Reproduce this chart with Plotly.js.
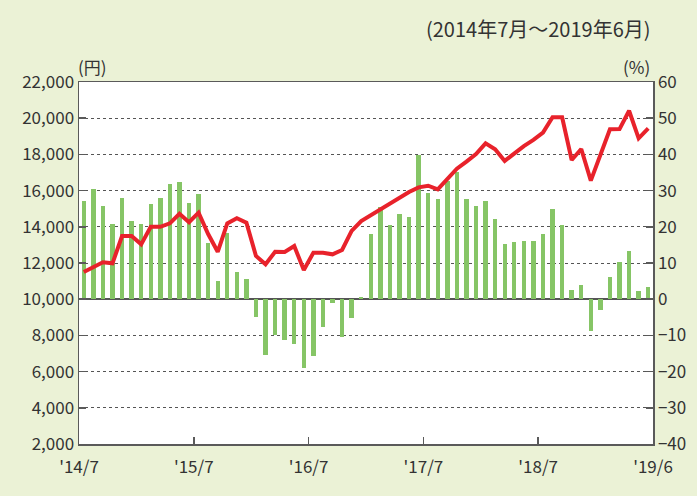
<!DOCTYPE html>
<html>
<head>
<meta charset="utf-8">
<script src="https://cdn.plot.ly/plotly-3.0.1.min.js"></script>
<style>html,body{margin:0;padding:0;background:#EBF2D6;}#chart{width:697px;height:496px;}</style>
</head>
<body>
<div id="chart"></div>
<script>
// Months 2014/7 .. 2019/6 (index 0..59)
const months = Array.from({length: 60}, (_, i) => i);

// Year-over-year change (%) - green bars, right axis
const changePct = [
  27.1, 30.4, 25.7, 20.8, 28.0, 21.6, 20.8, 26.3, 28.0, 31.8, 32.4, 26.6,
  29.1, 15.5, 5.0, 18.3, 7.5, 5.6, -4.8, -15.3, -9.8, -11.2, -12.3, -18.9,
  -15.6, -7.6, -1.0, -10.4, -5.1, 0.7, 18.1, 25.5, 20.6, 23.4, 22.8, 39.8,
  29.3, 27.7, 32.7, 35.1, 27.7, 25.8, 27.1, 22.1, 15.2, 15.8, 16.1, 16.1,
  18.0, 24.9, 20.5, 2.5, 3.9, -8.7, -2.9, 6.1, 10.3, 13.3, 2.3, 3.4
];

// Price level (yen) - red line, left axis
const priceYen = [
  11500, 11760, 12040, 11980, 13490, 13490, 13030, 14000, 14000, 14190, 14720, 14250,
  14780, 13600, 12620, 14190, 14470, 14230, 12390, 11930, 12620, 12610, 12940, 11610,
  12570, 12570, 12480, 12720, 13770, 14320, 14650, 14930, 15260, 15590, 15920, 16180,
  16270, 16070, 16680, 17210, 17600, 18020, 18610, 18280, 17640, 18060, 18460, 18800,
  19200, 20050, 20050, 17690, 18300, 16550, 17970, 19390, 19400, 20410, 18890, 19440
];

const xTickVals = [-0.5, 11.5, 23.5, 35.5, 47.5, 59.5];
const xTickText = ["'14/7", "'15/7", "'16/7", "'17/7", "'18/7", "'19/6"];
const pctTickVals = [-40, -30, -20, -10, 0, 10, 20, 30, 40, 50, 60];
const pctTickText = ["\u221240", "\u221230", "\u221220", "\u221210", "0", "10", "20", "30", "40", "50", "60"];
const yenTickVals = [2000, 4000, 6000, 8000, 10000, 12000, 14000, 16000, 18000, 20000, 22000];
const yenTickText = ["2,000", "4,000", "6,000", "8,000", "10,000", "12,000", "14,000", "16,000", "18,000", "20,000", "22,000"];

const FONT = '"Noto Sans CJK JP", "Noto Sans", sans-serif';
const TXT = '#333333';
const AX = '#5a5a5a';
const TICKSIZE = 17;

const data = [
  {
    type: 'bar', x: months, y: changePct, yaxis: 'y',
    marker: {color: '#86C566'}, width: 0.46, hoverinfo: 'none'
  },
  {
    type: 'scatter', mode: 'lines', x: months, y: priceYen, yaxis: 'y2',
    line: {color: '#E8222B', width: 4, shape: 'linear'}, hoverinfo: 'none'
  }
];

const layout = {
  width: 697, height: 496,
  paper_bgcolor: '#EBF2D6', plot_bgcolor: '#FFFFFF',
  margin: {l: 79, r: 44, t: 82, b: 52},
  showlegend: false,
  font: {family: FONT, size: TICKSIZE, color: TXT},
  bargap: 0,
  xaxis: {
    range: [-0.5, 59.5], tickmode: 'array', tickvals: xTickVals, ticktext: xTickText,
    ticks: 'inside', ticklen: 7, tickwidth: 1.5, tickcolor: AX,
    showline: true, linecolor: AX, linewidth: 1.5, mirror: true,
    showgrid: false, zeroline: false, fixedrange: true,
    ticklabelstandoff: 7,
    tickfont: {family: FONT, size: TICKSIZE, color: TXT}
  },
  yaxis: {
    side: 'right', range: [-40, 60], tickmode: 'array', tickvals: pctTickVals, ticktext: pctTickText,
    ticks: 'inside', ticklen: 7, tickwidth: 1.5, tickcolor: AX,
    showline: true, linecolor: AX, linewidth: 1.5,
    showgrid: true, gridcolor: '#555555', griddash: 'dot', gridwidth: 1,
    zeroline: true, zerolinecolor: '#555555', zerolinewidth: 1.5,
    tickfont: {family: FONT, size: TICKSIZE, color: TXT}, fixedrange: true
  },
  yaxis2: {
    overlaying: 'y', side: 'left', range: [2000, 22000], tickmode: 'array',
    tickvals: yenTickVals, ticktext: yenTickText,
    ticks: 'inside', ticklen: 7, tickwidth: 1.5, tickcolor: AX,
    showline: true, linecolor: AX, linewidth: 1.5,
    showgrid: false, zeroline: false,
    tickfont: {family: FONT, size: TICKSIZE, color: TXT}, fixedrange: true
  },
  annotations: [
    {text: '(2014年7月～2019年6月)', xref: 'paper', yref: 'paper', x: 1.0, y: 1, xanchor: 'right', yanchor: 'bottom',
     yshift: 37, showarrow: false, font: {family: FONT, size: 20, color: TXT}},
    {text: '(円)', xref: 'paper', yref: 'paper', x: 0, y: 1, xanchor: 'left', yanchor: 'bottom',
     xshift: -3, yshift: 1, showarrow: false, font: {family: FONT, size: 17, color: TXT}},
    {text: '(%)', xref: 'paper', yref: 'paper', x: 1, y: 1, xanchor: 'right', yanchor: 'bottom',
     xshift: -1, yshift: 1, showarrow: false, font: {family: FONT, size: 17, color: TXT}}
  ]
};

Plotly.newPlot('chart', data, layout, {displayModeBar: false, staticPlot: true});
</script>
</body>
</html>
